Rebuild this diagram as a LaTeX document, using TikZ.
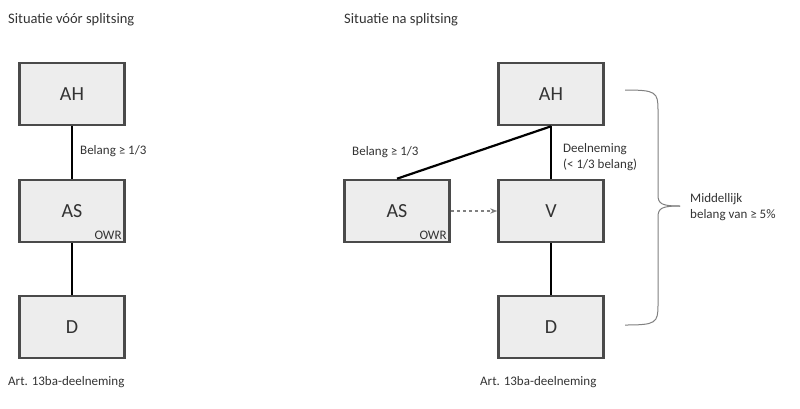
\documentclass[tikz,border=0pt]{standalone}
\usepackage{fontspec}
\setmainfont{Carlito}
\usetikzlibrary{arrows.meta}
\definecolor{bx}{HTML}{EDEDED}
\definecolor{bd}{HTML}{4A4A4A}
\definecolor{tx}{HTML}{333333}
\begin{document}
\begin{tikzpicture}[x=1pt,y=-1pt,
  box/.style={draw=bd,line width=2.6pt,fill=bx,minimum width=105pt,minimum height=62pt,inner sep=0pt,font=\fontsize{20}{24}\selectfont,text=tx},
  lbl/.style={font=\fontsize{13}{16}\selectfont,text=tx,inner sep=0pt,align=left},
  ttl/.style={font=\fontsize{14.5}{17}\selectfont,text=tx,inner sep=0pt},
  small/.style={font=\fontsize{13}{15}\selectfont,text=tx,inner sep=0pt},
  con/.style={line width=2.2pt,black}]
\useasboundingbox (0,0) rectangle (800,408);
\node[ttl,anchor=west] (t1) at (8,20) {Situatie vóór splitsing};
\node[ttl,anchor=west] (t2) at (344,20) {Situatie na splitsing};
% left
\node[box] (lAH) at (72,94) {AH};
\node[box] (lAS) at (72,211) {AS};
\node[box] (lD) at (72,327) {D};
\node[small,anchor=south east] (lowr) at (lAS.south east) [xshift=-4pt,yshift=4pt] {OWR};
\draw[con] (lAH) -- (lAS);
\draw[con] (lAS) -- (lD);
\node[lbl,anchor=west] (lb) at (80,151) {Belang ≥ 1/3};
\node[lbl,anchor=west] (lart) at (8,382) {Art. 13ba-deelneming};
% right
\node[box] (rAH) at (551,94) {AH};
\node[box] (rAS) at (397,211) {AS};
\node[box] (rV) at (551,211) {V};
\node[box] (rD) at (551,327) {D};
\node[small,anchor=south east] (rowr) at (rAS.south east) [xshift=-4pt,yshift=4pt] {OWR};
\draw[con] (rAH.south) -- (rV.north);
\draw[con] (rAH.south) -- (rAS.north);
\draw[con] (rV) -- (rD);
\draw[dashed,gray,line width=1.2pt,-{Stealth[length=7pt]}] (rAS.east) -- (rV.west);
\node[lbl,anchor=west] (rb) at (352,152) {Belang ≥ 1/3};
\node[lbl,anchor=west] (rd) at (563,157) {Deelneming\\(< 1/3 belang)};
\node[lbl,anchor=west] (rart) at (480,382) {Art. 13ba-deelneming};
% brace
\coordinate (b1) at (625,90);
\coordinate (b2) at (625,325);
\coordinate (tip) at (680,206);
\draw[gray,line width=1pt] (b1) .. controls (656,90) and (658,92) .. (658,110) -- (658,195) .. controls (658,204) and (662,206) .. (tip);
\draw[gray,line width=1pt] (b2) .. controls (656,325) and (658,323) .. (658,305) -- (658,217) .. controls (658,208) and (662,206) .. (tip);
\node[lbl,anchor=west] (mb) at (690,207) {Middellijk\\belang van ≥ 5\%};
\end{tikzpicture}
\end{document}
